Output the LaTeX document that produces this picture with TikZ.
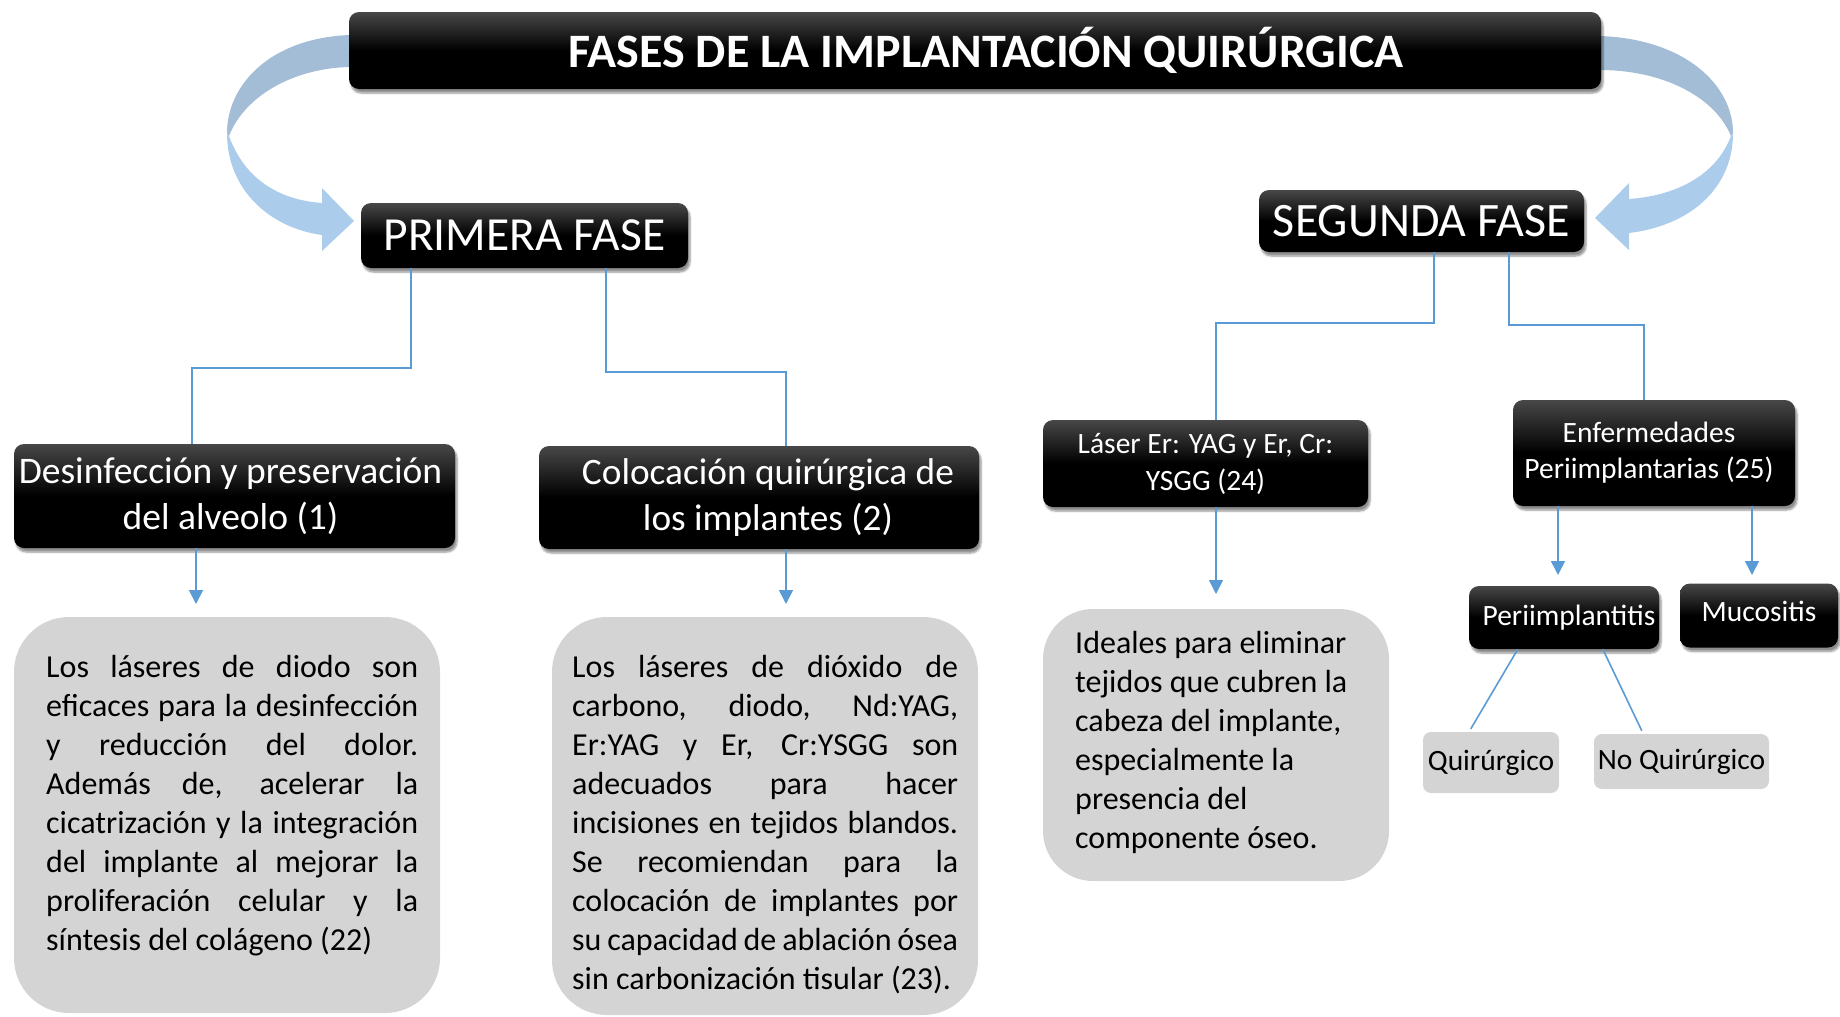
\documentclass[tikz,border=0pt]{standalone}
\usepackage{fontspec}
\setmainfont{Carlito}
\usetikzlibrary{arrows.meta,shadows.blur}
\definecolor{linkblue}{HTML}{5B9BD5}
\definecolor{bandtop}{HTML}{A3BDD6}
\definecolor{bandbot}{HTML}{ABCCEA}
\definecolor{boxgray}{HTML}{D4D4D4}
\newcommand{\fs}[2]{\fontsize{#1}{#2}\selectfont}
\newcommand{\resp}{\spaceskip=0pt\xspaceskip=0pt\relax}
\newcommand{\jl}[1]{\makebox[\hsize][s]{#1}\\}

\begin{document}
\begin{tikzpicture}[x=1pt,y=-1pt,
  hdr/.style={rounded corners=10pt,top color=black!72,bottom color=black,middle color=black,text=white,inner sep=0pt,align=center,
    blur shadow={shadow xshift=2pt,shadow yshift=-4pt,shadow opacity=45,shadow blur steps=6}},
  txtbox/.style={fill=boxgray,rounded corners=55pt,inner sep=0pt},
  smallbox/.style={fill=boxgray,rounded corners=8pt,inner sep=0pt,font=\fs{29.5}{35}},
  body/.style={inner sep=0pt,anchor=base west,align=left,font=\fs{32}{39},execute at begin node=\resp},
  link/.style={draw=linkblue,line width=1.6pt},
  tip/.style={link,-{Triangle[width=14pt,length=14pt]}}]
\useasboundingbox (0,0) rectangle (1840,1017);

\fill[bandtop] (350,35) .. controls (270,38) and (227,85) .. (227,133) -- (229,136) .. controls (245,95) and (295,68) .. (350,67) -- cycle;
\fill[bandbot] (227,133) .. controls (227,190) and (270,228) .. (322,235) -- (322,251) -- (354,221) -- (322,188) -- (322,203) .. controls (280,200) and (245,180) .. (229,136) -- cycle;
\fill[bandtop] (1600,36) .. controls (1685,39) and (1733,85) .. (1733,133) -- (1731,136) .. controls (1714,95) and (1660,70) .. (1600,70) -- cycle;
\fill[bandbot] (1733,133) .. controls (1733,190) and (1688,226) .. (1629,233) -- (1629,250) -- (1595,218) -- (1629,183) -- (1629,199) .. controls (1672,196) and (1715,178) .. (1731,136) -- cycle;

\node[hdr,minimum width=1252pt,minimum height=77pt,font=\bfseries\fs{48}{56}] (title) at (975,50.5) {\hspace*{22pt}FASES DE LA IMPLANTACIÓN QUIRÚRGICA};
\node[hdr,minimum width=327pt,minimum height=65pt,font=\fs{47.5}{55}] (primera) at (524.5,235.5) {PRIMERA FASE};
\node[hdr,minimum width=325pt,minimum height=62pt,font=\fs{48}{56}] (segunda) at (1421.5,221) {SEGUNDA FASE};
\node[hdr,minimum width=441pt,minimum height=104pt,font=\fs{37.5}{46}] (desinf) at (234.5,496) {Desinfección y preservación\hspace*{8pt}\\del alveolo (1)\hspace*{8pt}};
\node[hdr,minimum width=440pt,minimum height=103pt,font=\fs{37.3}{46}] (coloc) at (759,497.5) {\hspace*{18pt}Colocación quirúrgica de\\\hspace*{18pt}los implantes (2)};
\node[hdr,minimum width=325pt,minimum height=87pt,font=\fs{29.5}{37}] (laser) at (1205.5,463.5) {Láser Er: YAG y Er, Cr:\\YSGG (24)};
\node[hdr,minimum width=282pt,minimum height=106pt,font=\fs{29.5}{36}] (enferm) at (1654,453) {Enfermedades\hspace*{10pt}\\Periimplantarias (25)\hspace*{10pt}};
\node[hdr,minimum width=190pt,minimum height=63pt,font=\fs{29.5}{35}] (perii) at (1564,617.5) {\hspace*{10pt}Periimplantitis};
\node[hdr,minimum width=158pt,minimum height=64pt,font=\fs{29.5}{35}] (muco) at (1759,615.5) {\raisebox{9pt}{Mucositis}};
\node[smallbox,minimum width=136pt,minimum height=61pt] (quir) at (1491,762.5) {Quirúrgico};
\node[smallbox,minimum width=175pt,minimum height=55pt] (noquir) at (1681.5,761.5) {No Quirúrgico};

\node[txtbox,minimum width=426pt,minimum height=396pt] (boxA) at (227,815) {};
\node[txtbox,minimum width=426pt,minimum height=398pt] (boxB) at (765,816) {};
\node[txtbox,minimum width=346pt,minimum height=272pt,rounded corners=50pt] (boxC) at (1216,745) {};

\node[body,text width=372pt] (txtA) at (46,677) {\jl{Los láseres de diodo son}\jl{eficaces para la desinfección}\jl{y reducción del dolor.}\jl{Además de, acelerar la}\jl{cicatrización y la integración}\jl{del implante al mejorar la}\jl{proliferación celular y la}síntesis del colágeno (22)};
\node[body,text width=386pt] (txtB) at (572,677) {\jl{Los láseres de dióxido de}\jl{carbono, diodo, Nd:YAG,}\jl{Er:YAG y Er, Cr:YSGG son}\jl{adecuados para hacer}\jl{incisiones en tejidos blandos.}\jl{Se recomiendan para la}\jl{colocación de implantes por}\jl{su capacidad de ablación ósea}sin carbonización tisular (23).};
\node[body,text width=300pt] (txtC) at (1075,653) {Ideales para eliminar\\tejidos que cubren la\\cabeza del implante,\\especialmente la\\presencia del\\componente óseo.};

\draw[link] ([xshift=50pt]primera.south west) -- ++(0,100) -| ([xshift=178pt]desinf.north west);
\draw[link] ([xshift=245pt]primera.south west) -- ++(0,104) -| ([xshift=247pt]coloc.north west);
\draw[link] ([xshift=175pt]segunda.south west) -- ++(0,71) -| ([xshift=173pt]laser.north west);
\draw[link] ([xshift=250pt]segunda.south west) -- ++(0,73) -| ([xshift=131pt]enferm.north west);

\coordinate (tipA) at (196,604);
\coordinate (tipB) at (786,604);
\coordinate (tipC) at (1216,594);
\coordinate (tipD) at (1558,575);
\coordinate (tipE) at (1752,575);
\draw[tip] (desinf.south -| tipA) -- (tipA);
\draw[tip] (coloc.south -| tipB) -- (tipB);
\draw[tip] (laser.south -| tipC) -- (tipC);
\draw[tip] (enferm.south -| tipD) -- (tipD);
\draw[tip] (enferm.south -| tipE) -- (tipE);

\draw[link] ([xshift=49pt]perii.south west) -- ([xshift=48pt,yshift=3pt]quir.north west);
\draw[link] ([xshift=134pt]perii.south west) -- ([xshift=48pt,yshift=3pt]noquir.north west);
\end{tikzpicture}
\end{document}
